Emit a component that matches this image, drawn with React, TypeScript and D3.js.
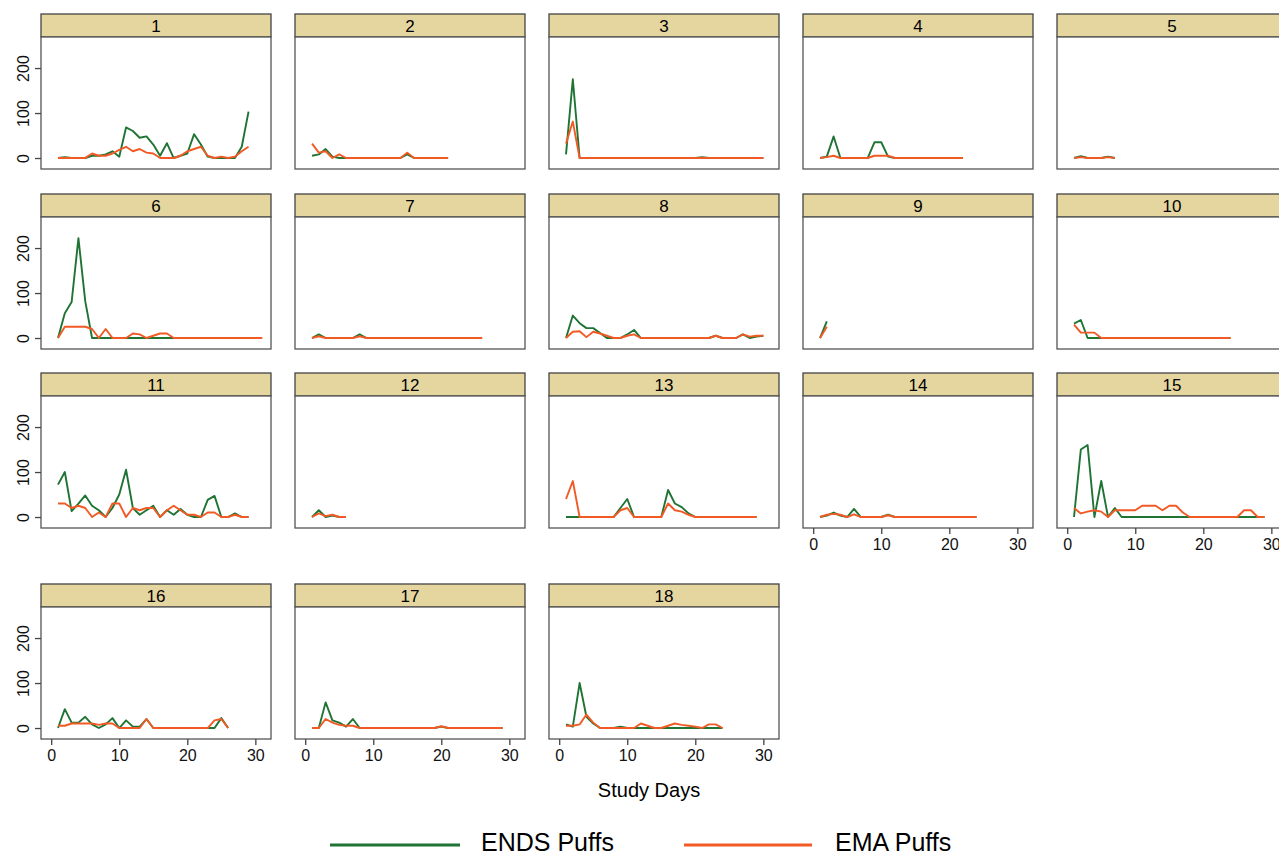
import React, { useEffect, useRef } from "react";
import * as d3 from "d3";

// ENDS puffs (green) and EMA puffs (orange) per participant, day 1..n
const ends1 = [0, 2, 0, 0, 0, 5, 5, 8, 15, 3, 68, 60, 45, 48, 30, 5, 33, 0, 5, 10, 53, 30, 3, 0, 0, 0, 0, 25, 103];
const ema1 = [0, 0, 0, 0, 0, 10, 5, 5, 10, 18, 25, 15, 20, 12, 10, 0, 0, 0, 5, 15, 20, 25, 5, 0, 3, 0, 3, 15, 25];
const ends2 = [5, 8, 20, 3, 0, 0, 0, 0, 0, 0, 0, 0, 0, 0, 8, 0, 0, 0, 0, 0, 0];
const ema2 = [32, 12, 15, 0, 8, 0, 0, 0, 0, 0, 0, 0, 0, 0, 12, 0, 0, 0, 0, 0, 0];
const ends3 = [8, 175, 0, 0, 0, 0, 0, 0, 0, 0, 0, 0, 0, 0, 0, 0, 0, 0, 0, 0, 2, 0, 0, 0, 0, 0, 0, 0, 0, 0];
const ema3 = [32, 81, 0, 0, 0, 0, 0, 0, 0, 0, 0, 0, 0, 0, 0, 0, 0, 0, 0, 0, 0, 0, 0, 0, 0, 0, 0, 0, 0, 0];
const ends4 = [0, 3, 48, 0, 0, 0, 0, 0, 35, 35, 3, 0, 0, 0, 0, 0, 0, 0, 0, 0, 0, 0];
const ema4 = [0, 2, 5, 0, 0, 0, 0, 0, 5, 5, 5, 0, 0, 0, 0, 0, 0, 0, 0, 0, 0, 0];
const ends5 = [0, 4, 0, 0, 0, 3, 0];
const ema5 = [0, 2, 0, 0, 0, 2, 0];
const ends6 = [0, 55, 80, 222, 82, 0, 0, 0, 0, 0, 0, 0, 0, 0, 0, 0, 0, 0, 0, 0, 0, 0, 0, 0, 0, 0, 0, 0, 0, 0, 0];
const ema6 = [0, 25, 25, 25, 25, 20, 0, 20, 0, 0, 0, 10, 8, 0, 5, 10, 10, 0, 0, 0, 0, 0, 0, 0, 0, 0, 0, 0, 0, 0, 0];
const ends7 = [0, 8, 0, 0, 0, 0, 0, 8, 0, 0, 0, 0, 0, 0, 0, 0, 0, 0, 0, 0, 0, 0, 0, 0, 0, 0];
const ema7 = [0, 4, 0, 0, 0, 0, 0, 4, 0, 0, 0, 0, 0, 0, 0, 0, 0, 0, 0, 0, 0, 0, 0, 0, 0, 0];
const ends8 = [0, 50, 33, 22, 22, 11, 0, 0, 0, 8, 18, 0, 0, 0, 0, 0, 0, 0, 0, 0, 0, 0, 5, 0, 0, 0, 8, 0, 3, 5];
const ema8 = [0, 14, 15, 2, 14, 10, 5, 0, 0, 5, 8, 0, 0, 0, 0, 0, 0, 0, 0, 0, 0, 0, 5, 0, 0, 0, 8, 3, 5, 5];
const ends9 = [0, 37];
const ema9 = [0, 25];
const ends10 = [32, 40, 0, 0, 0, 0, 0, 0, 0, 0, 0, 0, 0, 0, 0, 0, 0, 0, 0, 0, 0, 0, 0, 0];
const ema10 = [30, 12, 12, 12, 0, 0, 0, 0, 0, 0, 0, 0, 0, 0, 0, 0, 0, 0, 0, 0, 0, 0, 0, 0];
const ends11 = [72, 100, 13, 30, 48, 25, 15, 0, 20, 50, 105, 20, 5, 15, 25, 0, 15, 5, 18, 5, 0, 0, 38, 47, 0, 0, 8, 0, 0];
const ema11 = [30, 30, 20, 25, 20, 0, 10, 0, 30, 30, 0, 20, 15, 20, 20, 0, 15, 25, 15, 5, 5, 0, 10, 10, 0, 0, 5, 0, 0];
const ends12 = [0, 15, 0, 3, 0, 0];
const ema12 = [0, 8, 2, 5, 0, 0];
const ends13 = [0, 0, 0, 0, 0, 0, 0, 0, 20, 40, 0, 0, 0, 0, 0, 60, 30, 22, 8, 0, 0, 0, 0, 0, 0, 0, 0, 0, 0];
const ema13 = [40, 80, 0, 0, 0, 0, 0, 0, 15, 20, 0, 0, 0, 0, 0, 30, 15, 12, 5, 0, 0, 0, 0, 0, 0, 0, 0, 0, 0];
const ends14 = [0, 3, 10, 3, 0, 18, 0, 0, 0, 0, 5, 0, 0, 0, 0, 0, 0, 0, 0, 0, 0, 0, 0, 0];
const ema14 = [0, 5, 7, 5, 0, 6, 0, 0, 0, 0, 4, 0, 0, 0, 0, 0, 0, 0, 0, 0, 0, 0, 0, 0];
const ends15 = [0, 150, 160, 0, 80, 0, 20, 0, 0, 0, 0, 0, 0, 0, 0, 0, 0, 0, 0, 0, 0, 0, 0, 0, 0, 0, 0, 0, 0];
const ema15 = [20, 8, 12, 15, 12, 0, 15, 15, 15, 15, 25, 25, 25, 15, 25, 25, 10, 0, 0, 0, 0, 0, 0, 0, 0, 15, 15, 0, 0];
const ends16 = [0, 42, 12, 12, 25, 8, 0, 8, 22, 0, 17, 3, 3, 20, 0, 0, 0, 0, 0, 0, 0, 0, 0, 0, 22, 0];
const ema16 = [5, 5, 10, 10, 10, 10, 7, 10, 10, 0, 0, 0, 0, 20, 0, 0, 0, 0, 0, 0, 0, 0, 0, 17, 20, 0];
const ends17 = [0, 0, 57, 17, 12, 3, 20, 0, 0, 0, 0, 0, 0, 0, 0, 0, 0, 0, 0, 3, 0, 0, 0, 0, 0, 0, 0, 0, 0];
const ema17 = [0, 0, 20, 12, 7, 5, 5, 0, 0, 0, 0, 0, 0, 0, 0, 0, 0, 0, 0, 4, 0, 0, 0, 0, 0, 0, 0, 0, 0];
const ends18 = [8, 3, 100, 25, 10, 0, 0, 0, 3, 0, 0, 0, 0, 0, 0, 0, 0, 0, 0, 0, 0, 0, 0, 0];
const ema18 = [5, 5, 8, 30, 12, 0, 0, 0, 0, 0, 0, 10, 5, 0, 0, 5, 10, 7, 5, 3, 0, 8, 8, 0];

const endsAll = [ends1, ends2, ends3, ends4, ends5, ends6, ends7, ends8, ends9, ends10, ends11, ends12, ends13, ends14, ends15, ends16, ends17, ends18];
const emaAll = [ema1, ema2, ema3, ema4, ema5, ema6, ema7, ema8, ema9, ema10, ema11, ema12, ema13, ema14, ema15, ema16, ema17, ema18];

const xTicks = [0, 10, 20, 30];
const yTicks = [0, 100, 200];
const seriesNames = ["ENDS Puffs", "EMA Puffs"];

const GREEN = "#1f7434";
const ORANGE = "#f15a24";
const FONT = "'Liberation Sans', Arial, Helvetica, sans-serif";

export default function App() {
  const ref = useRef<SVGSVGElement>(null);

  useEffect(() => {
    const svg = d3.select(ref.current);
    svg.selectAll("*").remove();

    // panel layout
    const colLeft = 41, colStep = 254, pw = 230;
    const headerTops = [14, 194, 373, 584];
    const hh = 23, ph = 132;

    for (let i = 0; i < 18; i++) {
      const col = i % 5, row = Math.floor(i / 5);
      const left = colLeft + col * colStep;
      const top = headerTops[row] + hh;
      const bottom = top + ph;

      const x = d3.scaleLinear().domain([-1.5, 32.3]).range([left, left + pw]);
      const y = d3.scaleLinear().domain([-24.4, 269]).range([bottom, top]);

      const g = svg.append("g");

      // header strip
      g.append("rect")
        .attr("x", left).attr("y", headerTops[row])
        .attr("width", pw).attr("height", hh)
        .attr("fill", "#e5d6a0").attr("stroke", "#444").attr("stroke-width", 1.3);
      g.append("text")
        .attr("x", left + pw / 2).attr("y", headerTops[row] + hh / 2 + 6)
        .attr("text-anchor", "middle")
        .style("font-family", FONT).style("font-size", "17px")
        .text(i + 1);

      // plot box
      g.append("rect")
        .attr("x", left).attr("y", top)
        .attr("width", pw).attr("height", ph)
        .attr("fill", "white").attr("stroke", "#555").attr("stroke-width", 1.3);

      const line = d3.line<number>()
        .x((d, k) => x(k + 1))
        .y(d => y(d));

      g.append("path").datum(endsAll[i])
        .attr("d", line).attr("fill", "none")
        .attr("stroke", GREEN).attr("stroke-width", 1.9).attr("stroke-linejoin", "round");
      g.append("path").datum(emaAll[i])
        .attr("d", line).attr("fill", "none")
        .attr("stroke", ORANGE).attr("stroke-width", 1.9).attr("stroke-linejoin", "round");

      // y axis on first column
      if (col === 0) {
        const ya = g.append("g").attr("transform", `translate(${left},0)`)
          .call(d3.axisLeft(y).tickValues(yTicks).tickSize(6).tickFormat(d3.format("d")));
        ya.select(".domain").remove();
        ya.selectAll("line").attr("stroke", "#444").attr("stroke-width", 1.3);
        ya.selectAll("text")
          .attr("x", 0).attr("dy", 0)
          .attr("transform", "translate(-12,0) rotate(-90)")
          .attr("text-anchor", "middle")
          .style("font-family", FONT).style("font-size", "16px").attr("fill", "#111");
      }

      // x axis on bottom panels
      if (i >= 13) {
        const xa = g.append("g").attr("transform", `translate(0,${bottom})`)
          .call(d3.axisBottom(x).tickValues(xTicks).tickSize(6).tickPadding(5));
        xa.select(".domain").remove();
        xa.selectAll("line").attr("stroke", "#444").attr("stroke-width", 1.3);
        xa.selectAll("text")
          .style("font-family", FONT).style("font-size", "16px").attr("fill", "#111");
      }
    }

    // axis title
    svg.append("text")
      .attr("x", 649).attr("y", 797)
      .attr("text-anchor", "middle")
      .style("font-family", FONT).style("font-size", "20px")
      .text("Study Days");

    // legend
    const legend = [
      { name: seriesNames[0], color: GREEN, x1: 330, x2: 460, tx: 481 },
      { name: seriesNames[1], color: ORANGE, x1: 684, x2: 812, tx: 835 },
    ];
    legend.forEach(l => {
      svg.append("line")
        .attr("x1", l.x1).attr("x2", l.x2).attr("y1", 845).attr("y2", 845)
        .attr("stroke", l.color).attr("stroke-width", 3);
      svg.append("text")
        .attr("x", l.tx).attr("y", 851)
        .style("font-family", FONT).style("font-size", "25px")
        .text(l.name);
    });
  }, []);

  return (
    <svg ref={ref} width={1279} height={857}
      style={{ position: "absolute", left: 0, top: 0, background: "white" }} />
  );
}
